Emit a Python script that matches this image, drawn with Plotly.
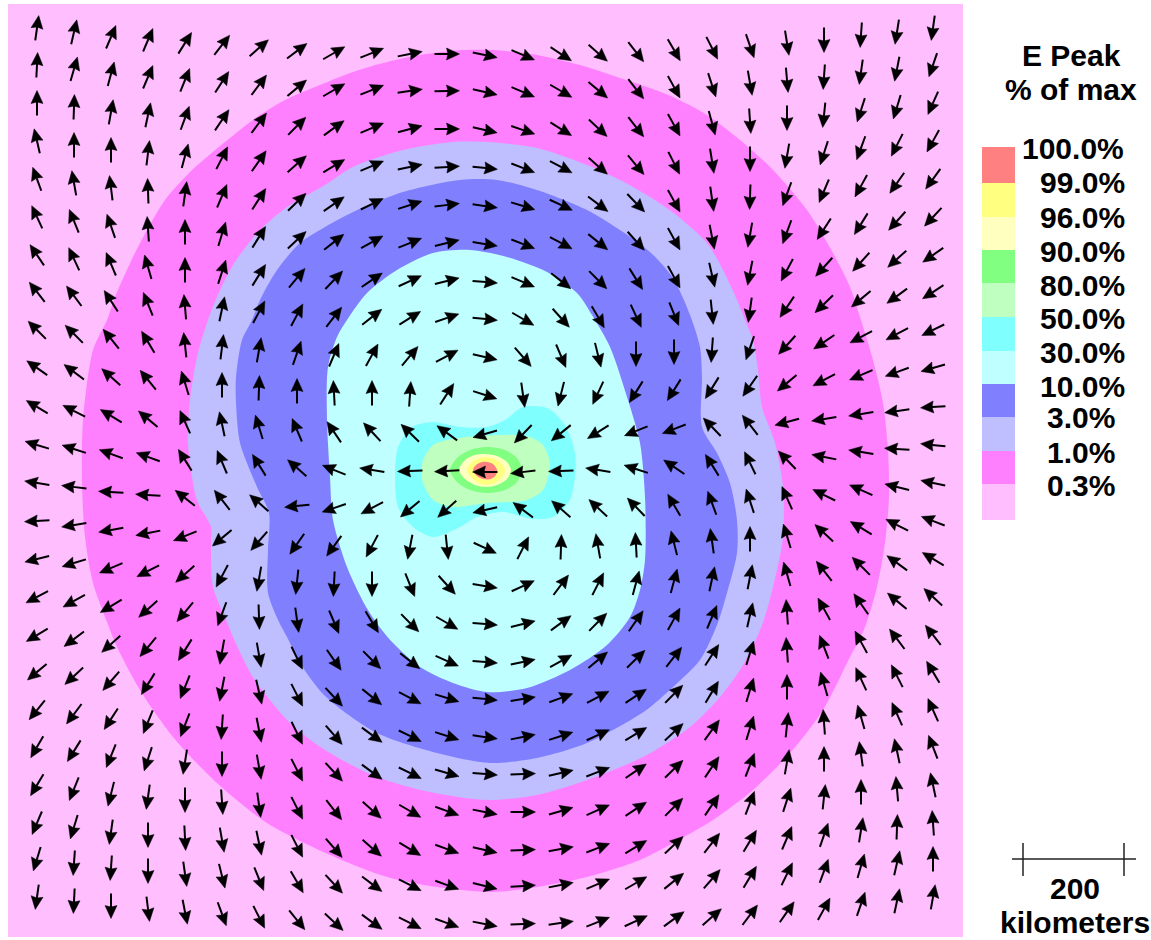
import math
import plotly.graph_objects as go

# ---- colour levels ----
level_labels = ["100.0%", "99.0%", "96.0%", "90.0%", "80.0%", "50.0%", "30.0%", "10.0%", "3.0%", "1.0%", "0.3%"]
level_colors = ["#FF8080", "#FFFF80", "#FFFFBF", "#80FF80", "#BFFFBF", "#80FFFF", "#BFFFFF", "#8080FF", "#BFBFFF", "#FF80FF", "#FFBFFF"]

# ---- contour outlines, (x, y) in image pixels ----
region_03 = [(8, 4), (963, 4), (963, 937), (8, 937)]
region_1 = [(107, 320), (115, 297), (133, 257), (147, 230), (165, 200), (190, 172), (220, 146), (257, 117), (287, 99), (320, 85),
            (353, 72), (387, 62), (420, 55), (463, 50), (493, 50), (537, 55), (587, 67), (620, 78), (650, 88), (673, 97),
            (707, 115), (740, 140), (773, 170), (807, 210), (833, 253), (850, 287), (860, 317), (873, 360), (883, 403), (888, 450),
            (889, 497), (885, 543), (877, 587), (865, 627), (850, 657), (823, 710), (790, 753), (753, 790), (713, 820), (673, 843),
            (640, 860), (587, 877), (537, 887), (493, 892), (437, 887), (387, 877), (330, 855), (267, 823), (217, 783), (173, 737),
            (140, 690), (117, 647), (107, 622), (93, 583), (85, 537), (82, 483), (83, 420), (93, 350)]
region_3 = [(208, 320), (217, 297), (233, 265), (258, 232), (287, 207), (325, 185), (353, 167), (403, 150), (453, 142), (487, 142),
            (537, 148), (587, 165), (620, 180), (650, 197), (675, 214), (707, 243), (723, 270), (737, 300), (745, 320), (753, 340),
            (758, 370), (762, 407), (775, 443), (783, 487), (783, 537), (773, 587), (762, 625), (743, 665), (720, 697), (690, 727),
            (645, 756), (587, 780), (537, 795), (487, 800), (430, 792), (377, 777), (325, 750), (290, 723), (253, 677), (233, 637),
            (227, 622), (213, 587), (211, 540), (211, 527), (197, 500), (188, 443), (190, 400), (198, 353)]
region_10 = [(252, 320), (260, 300), (277, 270), (300, 243), (325, 227), (353, 212), (403, 192), (460, 180), (497, 180), (537, 190),
             (587, 210), (620, 230), (650, 252), (673, 278), (690, 315), (700, 347), (702, 377), (702, 427), (717, 453), (730, 483),
             (737, 520), (737, 553), (727, 593), (717, 625), (700, 660), (673, 687), (645, 711), (587, 743), (537, 758), (490, 763),
             (437, 753), (377, 733), (325, 696), (300, 663), (287, 637), (279, 622), (268, 593), (268, 550), (269, 513), (257, 487),
             (240, 443), (236, 403), (236, 377), (242, 340)]
region_30 = [(347, 320), (367, 293), (397, 270), (433, 253), (470, 250), (507, 257), (547, 272), (577, 293), (592, 315), (610, 347),
             (628, 400), (640, 443), (645, 497), (645, 560), (640, 590), (630, 617), (607, 645), (570, 670), (527, 688), (487, 692),
             (453, 683), (420, 667), (393, 643), (378, 625), (365, 605), (347, 567), (333, 520), (330, 477), (327, 420), (328, 367),
             (337, 337)]
region_50 = [(523, 407), (547, 408), (565, 425), (575, 453), (575, 477), (570, 500), (553, 517), (533, 519), (503, 512), (477, 517),
             (460, 527), (433, 537), (413, 527), (398, 507), (395, 477), (398, 447), (412, 427), (433, 422), (460, 427), (487, 427),
             (505, 420)]
region_80 = [(447, 440), (477, 436), (527, 436), (543, 445), (550, 465), (543, 490), (527, 500), (487, 503), (453, 507), (433, 500),
             (422, 480), (423, 460), (433, 445)]
region_90 = [(450, 470), (457, 458), (470, 450), (487, 447), (505, 450), (517, 458), (522, 470), (517, 482), (505, 490), (487, 493),
             (470, 490), (457, 482)]
region_96 = [(459, 470), (465, 460), (475, 455), (486, 454), (497, 456), (507, 462), (511, 470), (507, 479), (497, 485), (486, 487),
             (475, 485), (465, 479)]
region_99 = [(467, 470), (472, 462), (480, 458), (486, 457), (495, 459), (502, 464), (505, 470), (502, 477), (495, 483), (486, 485),
             (478, 483), (471, 477)]
region_100 = [(473, 470), (476, 465), (482, 462), (487, 462), (493, 464), (497, 470), (496, 475), (491, 479), (483, 479), (477, 476)]
regions_outer_first = [region_03, region_1, region_3, region_10, region_30, region_50, region_80, region_90, region_96, region_99, region_100]

# ---- arrow grid: column centres, row centres at the left edge, downward bow of each column ----
col_x = [37, 74, 111, 148, 185, 222, 259, 297, 334, 372, 410, 447, 485, 523, 561, 598, 636, 674, 712, 750, 787, 824, 861, 897, 933]
row_y = [28, 65, 103, 141, 179, 217, 255, 292, 330, 368, 407, 445, 483, 521, 559, 597, 635, 672, 710, 747, 785, 823, 859, 897]
col_bow = [0, 4, 9, 12, 15, 17, 20, 23, 25, 25, 26, 26, 27, 27, 26, 25, 24, 22, 20, 18, 15, 12, 7, 4, 0]

# arrow direction in degrees, counter-clockwise from east, one list per row
angle_rows = [
    [82, 77, 67, 67, 58, 52, 41, 37, 30, 22, 11, 0, -12, -23, -33, -41, -52, -60, -63, -71, -81, -90, -94, -99, -98],
    [87, 74, 75, 67, 68, 57, 53, 40, 30, 22, 8, 1, -13, -23, -30, -40, -52, -61, -72, -80, -85, -94, -98, -101, -109],
    [90, 88, 80, 78, 70, 56, 53, 45, 36, 23, 15, 0, -13, -19, -32, -43, -52, -61, -75, -86, -90, -96, -108, -107, -114],
    [103, 90, 90, 83, 75, 63, 55, 41, 31, 23, 12, 4, -6, -21, -28, -41, -50, -63, -81, -90, -100, -108, -110, -117, -119],
    [110, 100, 97, 92, 82, 67, 57, 44, 35, 26, 18, 7, -8, -17, -25, -37, -46, -61, -82, -92, -110, -113, -119, -125, -126],
    [115, 112, 109, 94, 90, 73, 58, 43, 38, 29, 22, 14, -9, -21, -28, -39, -48, -61, -79, -100, -110, -123, -122, -132, -133],
    [124, 115, 113, 106, 90, 72, 58, 50, 46, 34, 25, 14, -5, -23, -38, -45, -58, -61, -77, -101, -118, -132, -132, -138, -145],
    [128, 127, 123, 112, 95, 78, 62, 62, 52, 38, 32, 19, -6, -30, -48, -60, -65, -68, -84, -98, -124, -136, -140, -144, -147],
    [135, 135, 129, 121, 96, 83, 80, 71, 67, 61, 50, 28, -13, -49, -67, -76, -90, -90, -94, -109, -132, -146, -152, -152, -154],
    [145, 143, 138, 129, 107, 90, 88, 90, 93, 90, 86, 57, -18, -82, -104, -115, -122, -122, -122, -125, -140, -152, -157, -160, -164],
    [149, 153, 149, 140, 114, 102, 107, 113, 124, 133, 136, 144, 196, 226, 219, 212, 202, 201, 134, 128, 195, 189, 189, 188, 184],
    [163, 162, 160, 160, 122, 113, 122, 139, 158, 171, 182, 183, 180, 187, 182, 171, 162, 146, 122, 116, 134, 169, 171, 176, 174],
    [171, 173, 177, 176, 142, 128, 139, 186, 199, 208, 220, 222, 193, 143, 139, 137, 134, 120, 110, 108, 114, 154, 156, 166, 168],
    [183, 189, 190, 191, 202, 220, 229, 235, 234, 242, 259, 276, -25, 63, 88, 100, 93, 104, 98, 90, 107, 137, 149, 153, 159],
    [194, 197, 203, 207, 222, 242, 260, 264, 267, 270, -68, -48, -9, 25, 53, 63, 75, 75, 78, 79, 106, 128, 135, 144, 149],
    [208, 209, 211, 222, 230, 250, 272, 278, -67, -59, -45, -30, -5, 14, 36, 45, 55, 61, 67, 77, 94, 119, 125, 140, 137],
    [211, 217, 222, 230, 238, 260, -80, -64, -55, -45, -38, -24, -5, 12, 29, 40, 44, 52, 57, 73, 94, 111, 119, 127, 128],
    [220, 223, 229, 238, 248, 259, -77, -63, -47, -39, -28, -17, -6, 9, 20, 28, 33, 45, 59, 73, 90, 106, 115, 117, 121],
    [231, 233, 237, 248, 249, 266, -79, -64, -49, -36, -26, -18, -8, 11, 18, 25, 31, 43, 54, 73, 84, 94, 106, 114, 114],
    [240, 238, 248, 252, 261, -90, -80, -63, -47, -36, -26, -16, -5, 2, 13, 21, 34, 44, 56, 69, 80, 90, 98, 102, 111],
    [239, 248, 256, 262, -90, -86, -82, -63, -52, -42, -30, -20, -11, 0, 16, 24, 33, 45, 56, 69, 72, 84, 90, 95, 102],
    [247, 253, 262, -90, -87, -80, -78, -63, -49, -41, -31, -20, -13, 2, 10, 21, 31, 43, 52, 59, 67, 71, 81, 88, 94],
    [253, 266, 266, -90, -82, -76, -68, -60, -47, -37, -27, -20, -14, 4, 11, 23, 30, 39, 49, 59, 64, 70, 74, 77, 90],
    [262, 267, -90, -83, -79, -70, -63, -51, -43, -36, -27, -20, -11, 2, 8, 22, 25, 36, 41, 53, 55, 61, 71, 78, 80],
]

# ---- legend ----
swatch_edges = [147, 183, 217, 250, 283, 317, 351, 384, 417, 451, 484, 520]
label_y = [148, 182, 217, 251, 285, 318, 352, 386, 417, 452, 485]
label_x = [1073, 1082, 1082, 1082, 1082, 1082, 1082, 1082, 1081, 1081, 1081]

ARROW_LEN = 25.0
HEAD_LEN = 13.0
HEAD_HALF = 6.0
NOTCH = 1.5

fig = go.Figure()

for i, (region, color) in enumerate(zip(regions_outer_first, reversed(level_colors))):
    fig.add_trace(go.Scatter(
        x=[p[0] for p in region] + [region[0][0]],
        y=[p[1] for p in region] + [region[0][1]],
        mode="lines", fill="toself", fillcolor=color,
        line=dict(width=0, color=color, shape="linear" if i == 0 else "spline", smoothing=0.8),
        hoverinfo="skip", showlegend=False))

shaft_x, shaft_y, head_x, head_y = [], [], [], []
for r, row in enumerate(angle_rows):
    for c, deg in enumerate(row):
        a = math.radians(deg)
        ux, uy = math.cos(a), -math.sin(a)
        px, py = -uy, ux
        cx, cy = col_x[c], row_y[r] + col_bow[c]
        tx, ty = cx - ux * ARROW_LEN / 2, cy - uy * ARROW_LEN / 2
        hx, hy = cx + ux * ARROW_LEN / 2, cy + uy * ARROW_LEN / 2
        bx, by = hx - ux * HEAD_LEN, hy - uy * HEAD_LEN
        nx, ny = hx - ux * (HEAD_LEN - NOTCH), hy - uy * (HEAD_LEN - NOTCH)
        shaft_x += [tx, nx, None]
        shaft_y += [ty, ny, None]
        head_x += [hx, bx + px * HEAD_HALF, nx, bx - px * HEAD_HALF, hx, None]
        head_y += [hy, by + py * HEAD_HALF, ny, by - py * HEAD_HALF, hy, None]

fig.add_trace(go.Scatter(x=shaft_x, y=shaft_y, mode="lines", line=dict(color="black", width=2),
                         hoverinfo="skip", showlegend=False))
fig.add_trace(go.Scatter(x=head_x, y=head_y, mode="lines", fill="toself", fillcolor="black",
                         line=dict(color="black", width=0.5), hoverinfo="skip", showlegend=False))

shapes = []
for i, color in enumerate(level_colors):
    shapes.append(dict(type="rect", xref="x", yref="y", x0=982, x1=1015,
                       y0=swatch_edges[i], y1=swatch_edges[i + 1],
                       fillcolor=color, line=dict(width=0), layer="above"))
# scale bar
for seg in [(1012, 859, 1136, 859), (1023, 843, 1023, 876), (1124, 843, 1124, 876)]:
    shapes.append(dict(type="line", xref="x", yref="y", x0=seg[0], y0=seg[1], x1=seg[2], y1=seg[3],
                       line=dict(color="#222222", width=1.5), layer="above"))

FONT = "Liberation Sans"
annotations = []
def text(x, y, s, size=30):
    annotations.append(dict(x=x, y=y, xref="x", yref="y", text="<b>" + s + "</b>", showarrow=False,
                            xanchor="center", yanchor="middle",
                            font=dict(family=FONT, size=size, color="black")))

text(1071, 55, "E Peak")
text(1071, 89, "% of max")
for lbl, lx, ly in zip(level_labels, label_x, label_y):
    text(lx, ly, lbl)
text(1075, 888, "200")
text(1075, 922, "kilometers")

fig.update_layout(
    width=1151, height=940, margin=dict(l=0, r=0, t=0, b=0),
    paper_bgcolor="white", plot_bgcolor="white", showlegend=False,
    xaxis=dict(range=[0, 1151], visible=False, fixedrange=True),
    yaxis=dict(range=[940, 0], visible=False, fixedrange=True),
    shapes=shapes, annotations=annotations,
)
fig.write_html("out.html", config={"displayModeBar": False},
               post_script="document.body.style.margin='0';document.body.style.overflow='hidden';")
